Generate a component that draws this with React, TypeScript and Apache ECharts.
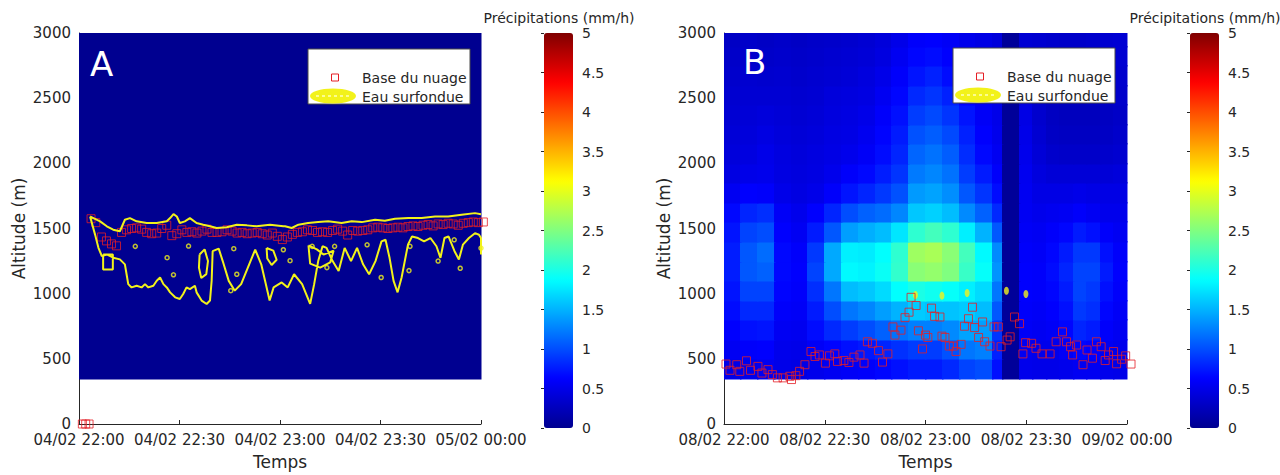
import React, { useEffect, useRef } from 'react';
import * as echarts from 'echarts';

// ---------- tick labels ----------
const ticksA = ['04/02 22:00', '04/02 22:30', '04/02 23:00', '04/02 23:30', '05/02 00:00'];
const ticksB = ['08/02 22:00', '08/02 22:30', '08/02 23:00', '08/02 23:30', '09/02 00:00'];

// ---------- panel A : precipitation field (minutes after 22:00, altitude m) ----------
const timeEdgesA = [0, 120];
const altEdgesA = [350, 3000];
const fieldA = [[0]];

// cloud base (Base du nuage) panel A
const baseTimeA = [1, 2, 3, 3.6, 5, 6.7, 8.2, 9.7, 11.2, 12.7, 14.2, 15.7, 17.2, 18.7, 20.2, 21.7, 23.2, 24.7, 26.2, 27.7,
  29.2, 30.7, 32.2, 33.7, 35.2, 36.7, 38.2, 39.7, 41.2, 42.7, 44.2, 45.7, 47.2, 48.7, 50.2, 51.7, 53.2, 54.7, 56.2, 57.7,
  59.2, 60.7, 62.2, 63.7, 65.2, 66.7, 68.2, 69.7, 71.2, 72.7, 74.2, 75.7, 77.2, 78.7, 80.2, 81.7, 83.2, 84.7, 86.2, 87.7,
  89.2, 90.7, 92.2, 93.7, 95.2, 96.7, 98.2, 99.7, 101.2, 102.7, 104.2, 105.7, 107.2, 108.7, 110.2, 111.7, 113.2, 114.7,
  116.2, 117.7, 119.2, 120.7];
const baseAltA = [0, 0, 0, 1575, 1545, 1435, 1405, 1382, 1367, 1470, 1490, 1500, 1505, 1495, 1470, 1460, 1465, 1500, 1525, 1445,
  1460, 1490, 1470, 1475, 1465, 1480, 1495, 1470, 1470, 1475, 1490, 1480, 1465, 1470, 1460, 1465, 1470, 1460, 1450, 1465,
  1440, 1415, 1435, 1455, 1470, 1475, 1490, 1485, 1470, 1475, 1470, 1485, 1495, 1480, 1450, 1485, 1480, 1485, 1490, 1505,
  1510, 1505, 1500, 1505, 1510, 1505, 1515, 1520, 1515, 1525, 1530, 1520, 1535, 1530, 1540, 1535, 1525, 1540,
  1545, 1550, 1545, 1550];

// supercooled water (Eau surfondue) contour pieces, panel A  [minute, altitude]
const contourUpperA = [[3.3, 1592], [4.3, 1580], [6.3, 1555], [8.3, 1517], [10.2, 1491], [12.2, 1479], [13.7, 1567], [15.2, 1580],
  [17.2, 1555], [20.2, 1542], [23.2, 1542], [26.2, 1555], [27.2, 1580], [28.2, 1610], [29.2, 1592], [30.1, 1542], [31.6, 1555],
  [33.1, 1580], [35.1, 1542], [37.1, 1529], [39.1, 1517], [41.1, 1504], [44.1, 1509], [47.1, 1529], [50.1, 1524], [53, 1517],
  [57, 1529], [61, 1517], [61.5, 1517], [63.5, 1504], [65.5, 1529], [68.4, 1542], [71.4, 1549], [74.4, 1555], [78.4, 1542],
  [81.4, 1555], [84.4, 1549], [88.4, 1567], [91.3, 1560], [94.3, 1575], [98.3, 1580], [102.3, 1580], [106.3, 1592],
  [110.2, 1592], [114.2, 1605], [118.2, 1618], [120, 1610]];
const contourLowerA = [[3.3, 1592], [4.8, 1453], [5.8, 1352], [6.8, 1289], [8.3, 1301], [10.2, 1276], [12.2, 1263], [13.7, 1225],
  [14.2, 1149], [14.7, 1073], [15.7, 1048], [17.2, 1061], [18.7, 1048], [19.7, 1073], [20.7, 1048], [22.2, 1061], [23.2, 1099],
  [24.2, 1124], [25.2, 1073], [26.2, 1048], [27.2, 1010], [28.7, 972], [30.1, 959], [31.1, 997], [32.1, 1048], [33.1, 1035],
  [34.6, 1061], [35.1, 1010], [36.6, 947], [38.1, 921], [39.1, 947], [39.6, 1100], [39.9, 1326], [41.7, 1346], [42.9, 1250],
  [44.7, 1098], [46.5, 1023], [48.4, 1073], [50.8, 1225], [52.6, 1338], [54.4, 1225], [56.9, 947], [58.1, 1048], [60.5, 1086],
  [62.3, 1048], [64.2, 1149], [66.6, 1073], [69, 922], [70.2, 1073], [71.4, 1250], [72.7, 1364], [73.9, 1351], [75.7, 1250],
  [77.5, 1174], [79.3, 1351], [81.2, 1250], [83, 1351], [84.8, 1225], [86.6, 1149], [88.5, 1250], [90.3, 1401], [91.5, 1414],
  [92.7, 1275], [93.9, 1098], [95.1, 1010], [96.3, 1124], [98.2, 1376], [99.4, 1439], [101.2, 1427], [103, 1401], [104.9, 1427],
  [106.7, 1364], [107.9, 1275], [109.1, 1427], [110.3, 1439], [112.1, 1326], [113.4, 1262], [114.6, 1376], [116.4, 1427],
  [118.2, 1464], [119.4, 1452], [120, 1427], [120, 1300]];
const islandLoopsA = [
  [[7.2, 1300], [10.1, 1300], [10.1, 1185], [7.2, 1185], [7.2, 1300]],
  [[36, 1300], [37.5, 1340], [38.5, 1250], [38, 1150], [36.5, 1120], [35.8, 1200], [36, 1300]],
  [[56, 1350], [58, 1330], [59, 1260], [57.5, 1220], [56.2, 1270], [56, 1350]],
  [[68.5, 1370], [71, 1340], [73, 1300], [76, 1330], [75, 1240], [72, 1200], [69, 1230], [68.5, 1370]],
];
const islandDotsA = [[16.8, 1363], [26.3, 1276], [28.2, 1145], [32.7, 1365], [46.2, 1345], [47.1, 1149], [45.3, 1023],
  [61, 1337], [63, 1253], [69.6, 1363], [74, 1200], [76.3, 1363], [86, 1375], [90.2, 1124], [98.5, 1177], [98.8, 1363],
  [107.2, 1250], [112, 1413], [113.8, 1195], [120, 1350]];

// ---------- panel B : precipitation field ----------
const timeEdgesB = [0, 5, 10, 15, 20, 25, 30, 35, 40, 45, 50, 55, 60, 65, 70, 75, 80, 83, 88, 92, 96, 100, 104, 108, 112, 116, 120];
const altEdgesB = [350, 500, 650, 800, 950, 1100, 1250, 1400, 1550, 1700, 1850, 2000, 2150, 2300, 2450, 2600, 2750, 2900, 3000];
// rows listed from the top (2900-3000 m) down to the bottom (350-500 m)
const fieldBTopDown = [
  [0.3, 0.32, 0.3, 0.32, 0.3, 0.32, 0.33, 0.35, 0.38, 0.42, 0.5, 0.6, 0.62, 0.58, 0.52, 0.48, 0.42, 0.05, 0.38, 0.36, 0.34, 0.32, 0.32, 0.34, 0.36, 0.38],
  [0.32, 0.34, 0.32, 0.34, 0.32, 0.34, 0.36, 0.38, 0.4, 0.45, 0.55, 0.65, 0.68, 0.62, 0.55, 0.5, 0.45, 0.05, 0.4, 0.35, 0.33, 0.31, 0.31, 0.33, 0.35, 0.37],
  [0.34, 0.36, 0.35, 0.36, 0.34, 0.36, 0.38, 0.4, 0.44, 0.5, 0.6, 0.72, 0.78, 0.68, 0.58, 0.52, 0.46, 0.05, 0.4, 0.33, 0.3, 0.28, 0.28, 0.3, 0.33, 0.35],
  [0.36, 0.38, 0.38, 0.38, 0.36, 0.38, 0.42, 0.44, 0.46, 0.55, 0.65, 0.82, 0.88, 0.78, 0.62, 0.54, 0.48, 0.05, 0.44, 0.33, 0.28, 0.26, 0.26, 0.28, 0.3, 0.33],
  [0.38, 0.4, 0.42, 0.4, 0.38, 0.4, 0.44, 0.46, 0.5, 0.6, 0.7, 0.92, 0.98, 0.88, 0.72, 0.58, 0.5, 0.05, 0.48, 0.35, 0.28, 0.26, 0.26, 0.26, 0.28, 0.31],
  [0.4, 0.42, 0.46, 0.42, 0.4, 0.42, 0.46, 0.48, 0.54, 0.64, 0.75, 1.02, 1.08, 0.98, 0.78, 0.62, 0.52, 0.05, 0.5, 0.37, 0.3, 0.28, 0.28, 0.28, 0.3, 0.33],
  [0.42, 0.45, 0.5, 0.45, 0.42, 0.45, 0.48, 0.52, 0.58, 0.68, 0.8, 1.12, 1.18, 1.08, 0.84, 0.66, 0.55, 0.05, 0.52, 0.4, 0.34, 0.32, 0.32, 0.32, 0.34, 0.36],
  [0.46, 0.5, 0.52, 0.46, 0.44, 0.46, 0.52, 0.6, 0.66, 0.76, 0.88, 1.22, 1.28, 1.18, 0.92, 0.75, 0.6, 0.05, 0.54, 0.44, 0.4, 0.4, 0.4, 0.4, 0.4, 0.42],
  [0.55, 0.62, 0.6, 0.5, 0.46, 0.5, 0.6, 0.72, 0.8, 0.9, 1.02, 1.38, 1.42, 1.32, 1.05, 0.88, 0.68, 0.05, 0.55, 0.48, 0.48, 0.48, 0.5, 0.48, 0.48, 0.48],
  [0.66, 0.8, 0.85, 0.58, 0.52, 0.62, 0.8, 1.0, 1.1, 1.15, 1.28, 1.6, 1.65, 1.55, 1.3, 1.1, 0.82, 0.05, 0.56, 0.52, 0.54, 0.56, 0.6, 0.56, 0.52, 0.52],
  [0.72, 0.95, 1.0, 0.62, 0.56, 0.75, 1.05, 1.4, 1.48, 1.55, 1.75, 2.1, 2.2, 2.1, 1.8, 1.5, 1.05, 0.05, 0.58, 0.56, 0.6, 0.65, 0.75, 0.7, 0.6, 0.56],
  [0.76, 1.05, 1.15, 0.66, 0.6, 0.9, 1.45, 1.8, 1.78, 1.88, 2.1, 2.65, 2.7, 2.55, 2.2, 1.85, 1.3, 0.05, 0.6, 0.58, 0.65, 0.75, 0.9, 0.9, 0.7, 0.6],
  [0.76, 1.05, 1.1, 0.66, 0.62, 0.95, 1.45, 1.85, 1.82, 1.92, 2.12, 2.55, 2.6, 2.5, 2.15, 1.9, 1.35, 0.05, 0.62, 0.6, 0.68, 0.8, 0.95, 0.95, 0.75, 0.62],
  [0.72, 0.95, 0.95, 0.64, 0.6, 0.85, 1.2, 1.55, 1.6, 1.7, 1.88, 2.0, 1.95, 1.9, 1.8, 1.7, 1.2, 0.05, 0.62, 0.6, 0.65, 0.75, 0.95, 0.9, 0.7, 0.6],
  [0.68, 0.82, 0.82, 0.6, 0.58, 0.75, 1.0, 1.2, 1.28, 1.4, 1.5, 1.62, 1.58, 1.58, 1.62, 1.55, 1.05, 0.05, 0.6, 0.58, 0.62, 0.7, 0.9, 0.85, 0.65, 0.58],
  [0.62, 0.7, 0.72, 0.56, 0.54, 0.68, 0.82, 0.92, 1.0, 1.1, 1.18, 1.25, 1.25, 1.3, 1.42, 1.4, 0.88, 0.05, 0.58, 0.55, 0.58, 0.65, 0.8, 0.75, 0.6, 0.55],
  [0.56, 0.6, 0.62, 0.52, 0.5, 0.58, 0.64, 0.7, 0.74, 0.8, 0.86, 0.92, 0.92, 1.02, 1.2, 1.25, 0.78, 0.05, 0.55, 0.52, 0.52, 0.58, 0.65, 0.62, 0.55, 0.52],
  [0.5, 0.52, 0.55, 0.5, 0.48, 0.52, 0.55, 0.58, 0.6, 0.65, 0.7, 0.75, 0.75, 0.82, 0.95, 1.0, 0.7, 0.05, 0.52, 0.5, 0.5, 0.52, 0.55, 0.55, 0.52, 0.5],
];

// cloud base panel B
const baseTimeB = [0.6, 1.8, 3.8, 4.7, 6.7, 7.9, 10.1, 11.3, 13.1, 14.4, 15.9, 17.6, 19.6, 20.1, 21.4, 22.5, 24.1, 25.9, 27.1, 28.4,
  30.2, 31.4, 33, 33.8, 35.7, 37.2, 38.7, 40.5, 41.7, 42.7, 44.2, 46, 47.2, 48.8, 50.3, 50.9, 52.7, 53.9, 55.1, 55.7, 57.2, 57.9,
  59.1, 60, 60.7, 61.8, 62.7, 64.3, 64.9, 65.8, 67.1, 68.3, 69.1, 70.6, 71.6, 72.8, 74, 74.6, 75.8, 77, 77.6, 79.2, 80.4, 81.7,
  82.5, 84.3, 85.2, 86.5, 88, 89, 89.8, 91.6, 92.9, 94.7, 97.1, 98.9, 100.8, 102, 103.2, 103.8, 105, 106.9, 108.1, 109.7, 110.9,
  112.3, 113.5, 114.5, 116, 116.9, 118.4, 119.6, 121.2];
const baseAltB = [460, 412, 455, 404, 485, 412, 442, 391, 417, 379, 354, 354, 366, 341, 371, 404, 455, 556, 518, 530,
  467, 523, 538, 480, 487, 472, 513, 530, 467, 631, 619, 563, 475, 538, 745, 682, 720, 816, 858, 972, 909, 715,
  576, 682, 664, 889, 826, 821, 674, 664, 598, 598, 556, 611, 750, 808, 896, 740, 664, 783, 631, 598, 745, 745,
  593, 644, 669, 821, 770, 538, 624, 619, 581, 538, 538, 631, 707, 631, 593, 530, 606, 455, 568, 505, 631,
  593, 487, 530, 556, 462, 497, 523, 460];

// supercooled water spots panel B
const waterTimeB = [57, 64.9, 72.4, 84.1, 89.9];
const waterAltB = [990, 985, 1005, 1023, 997];

// ---------- styling ----------
const FONT = 'DejaVu Sans';
const TXT = '#262626';
const JET = ['#000090', '#0000FF', '#0080FF', '#00FFFF', '#80FF80', '#FFFF00', '#FF8000', '#FF0000', '#800000'];
const RED = '#E51E25';
const YELLOW = '#F2F21A';

function buildCells(tE: number[], aE: number[], f: number[][]) {
  const out: number[][] = [];
  for (let r = 0; r < aE.length - 1; r++) {
    for (let c = 0; c < tE.length - 1; c++) {
      out.push([tE[c], tE[c + 1], aE[r], aE[r + 1], f[r][c]]);
    }
  }
  return out;
}

function zip(a: number[], b: number[]) {
  return a.map((v, i) => [v, b[i]]);
}

function joinPieces(pieces: number[][][]) {
  const out: any[] = [];
  pieces.forEach((p, i) => {
    if (i > 0) out.push(['-', '-']);
    p.forEach((pt) => out.push(pt));
  });
  return out;
}

const renderCell = (params: any, api: any) => {
  const p0 = api.coord([api.value(0), api.value(3)]);
  const p1 = api.coord([api.value(1), api.value(2)]);
  const x = Math.floor(p0[0]);
  const y = Math.floor(p0[1]);
  return {
    type: 'rect',
    shape: { x, y, width: Math.ceil(p1[0]) - x + 0.5, height: Math.ceil(p1[1]) - y + 0.5 },
    style: { fill: api.visual('color') },
  };
};

function xAxisFor(idx: number, ticks: string[]) {
  return {
    gridIndex: idx,
    type: 'value',
    min: 0,
    max: 120,
    interval: 30,
    axisLine: { show: true, onZero: false, lineStyle: { color: TXT, width: 1 } },
    axisTick: { show: true, inside: true, length: 4, lineStyle: { color: TXT } },
    axisLabel: {
      formatter: (v: number) => ticks[Math.round(v / 30)],
      color: TXT,
      fontSize: 15,
      fontFamily: FONT,
      margin: 8,
    },
    splitLine: { show: false },
    name: 'Temps',
    nameLocation: 'middle',
    nameGap: 29,
    nameTextStyle: { fontSize: 17, color: TXT, fontFamily: FONT },
  };
}

function yAxisFor(idx: number) {
  return {
    gridIndex: idx,
    type: 'value',
    min: 0,
    max: 3000,
    interval: 500,
    axisLine: { show: true, onZero: false, lineStyle: { color: TXT, width: 1 } },
    axisTick: { show: true, inside: true, length: 4, lineStyle: { color: TXT } },
    axisLabel: { color: TXT, fontSize: 15, fontFamily: FONT, margin: 8, formatter: (v: number) => String(v) },
    splitLine: { show: false },
    name: 'Altitude (m)',
    nameLocation: 'middle',
    nameGap: 52,
    nameRotate: 90,
    nameTextStyle: { fontSize: 17, color: TXT, fontFamily: FONT },
  };
}

function cbAxes(idx: number) {
  return {
    x: { gridIndex: idx, type: 'value', min: 0, max: 1, show: false },
    y: {
      gridIndex: idx,
      type: 'value',
      min: 0,
      max: 5,
      interval: 0.5,
      position: 'right',
      z: 10,
      axisLine: { show: false },
      axisTick: { show: true, inside: true, length: 3, lineStyle: { color: TXT } },
      axisLabel: { color: TXT, fontSize: 14, fontFamily: FONT, margin: 9, formatter: (v: number) => String(v) },
      splitLine: { show: false },
    },
  };
}

function legendGraphics(L: number, T: number) {
  return [
    {
      type: 'rect', z: 100,
      shape: { x: L, y: T, width: 162, height: 55 },
      style: { fill: '#ffffff', stroke: '#4a4a4a', lineWidth: 1 },
    },
    {
      type: 'rect', z: 101,
      shape: { x: L + 23.5, y: T + 25, width: 7, height: 7 },
      style: { fill: 'none', stroke: RED, lineWidth: 1 },
    },
    {
      type: 'text', z: 101, x: L + 54, y: T + 29,
      style: { text: 'Base du nuage', fill: TXT, fontSize: 14, fontFamily: FONT, textVerticalAlign: 'middle' },
    },
    {
      type: 'ellipse', z: 101,
      shape: { cx: L + 25, cy: T + 47, rx: 23, ry: 7.5 },
      style: { fill: YELLOW },
    },
    {
      type: 'line', z: 102,
      shape: { x1: L + 8, y1: T + 47, x2: L + 42, y2: T + 47 },
      style: { stroke: '#FFFFB8', lineWidth: 1.5, lineDash: [3, 3] },
    },
    {
      type: 'text', z: 101, x: L + 54, y: T + 48,
      style: { text: 'Eau surfondue', fill: TXT, fontSize: 14, fontFamily: FONT, textVerticalAlign: 'middle' },
    },
  ];
}

export default function App() {
  const ref = useRef<HTMLDivElement>(null);
  useEffect(() => {
    if (!ref.current) return;
    const chart = echarts.init(ref.current, null, { renderer: 'svg' });
    const fieldB = fieldBTopDown.slice().reverse();
    const cbA = cbAxes(2);
    const cbB = cbAxes(3);
    const option: any = {
      animation: false,
      backgroundColor: '#ffffff',
      textStyle: { fontFamily: FONT },
      grid: [
        { left: 79, top: 33, width: 402, height: 395 },
        { left: 724, top: 33, width: 403, height: 395 },
        { left: 544, top: 33, width: 29, height: 395 },
        { left: 1190, top: 33, width: 29, height: 395 },
      ],
      xAxis: [xAxisFor(0, ticksA), xAxisFor(1, ticksB), cbA.x, cbB.x],
      yAxis: [yAxisFor(0), yAxisFor(1), cbA.y, cbB.y],
      visualMap: [
        {
          type: 'continuous', min: 0, max: 5, seriesIndex: 0, dimension: 4,
          inRange: { color: JET }, left: 544, top: 33, itemWidth: 29, itemHeight: 395,
          padding: 0, calculable: false, hoverLink: false, orient: 'vertical',
        },
        {
          type: 'continuous', min: 0, max: 5, seriesIndex: 1, dimension: 4,
          inRange: { color: JET }, left: 1190, top: 33, itemWidth: 29, itemHeight: 395,
          padding: 0, calculable: false, hoverLink: false, orient: 'vertical',
        },
      ],
      series: [
        {
          type: 'custom', xAxisIndex: 0, yAxisIndex: 0, silent: true,
          renderItem: renderCell, encode: { x: [0, 1], y: [2, 3] },
          data: buildCells(timeEdgesA, altEdgesA, fieldA),
        },
        {
          type: 'custom', xAxisIndex: 1, yAxisIndex: 1, silent: true,
          renderItem: renderCell, encode: { x: [0, 1], y: [2, 3] },
          data: buildCells(timeEdgesB, altEdgesB, fieldB),
        },
        {
          name: 'Eau surfondue', type: 'line', xAxisIndex: 0, yAxisIndex: 0, silent: true,
          showSymbol: false, connectNulls: false,
          lineStyle: { color: YELLOW, width: 2 },
          data: joinPieces([contourUpperA, contourLowerA, ...islandLoopsA]),
        },
        {
          name: 'Eau surfondue', type: 'scatter', xAxisIndex: 0, yAxisIndex: 0, silent: true,
          symbol: 'circle', symbolSize: 4,
          itemStyle: { color: 'rgba(0,0,0,0)', borderColor: YELLOW, borderWidth: 1.5 },
          data: islandDotsA,
        },
        {
          name: 'Base du nuage', type: 'scatter', xAxisIndex: 0, yAxisIndex: 0, silent: true, clip: false,
          symbol: 'rect', symbolSize: 8,
          itemStyle: { color: 'rgba(0,0,0,0)', borderColor: RED, borderWidth: 1 },
          data: zip(baseTimeA, baseAltA),
        },
        {
          name: 'Eau surfondue', type: 'scatter', xAxisIndex: 1, yAxisIndex: 1, silent: true,
          symbol: 'circle', symbolSize: [5, 8],
          itemStyle: { color: YELLOW },
          data: zip(waterTimeB, waterAltB),
        },
        {
          name: 'Base du nuage', type: 'scatter', xAxisIndex: 1, yAxisIndex: 1, silent: true, clip: false,
          symbol: 'rect', symbolSize: 8,
          itemStyle: { color: 'rgba(0,0,0,0)', borderColor: RED, borderWidth: 1 },
          data: zip(baseTimeB, baseAltB),
        },
        { type: 'scatter', xAxisIndex: 2, yAxisIndex: 2, data: [], silent: true },
        { type: 'scatter', xAxisIndex: 3, yAxisIndex: 3, data: [], silent: true },
      ],
      graphic: [
        {
          type: 'text', z: 100, x: 90, y: 64,
          style: { text: 'A', fill: '#ffffff', fontSize: 34, fontFamily: FONT, textVerticalAlign: 'middle' },
        },
        {
          type: 'text', z: 100, x: 743, y: 62,
          style: { text: 'B', fill: '#ffffff', fontSize: 34, fontFamily: FONT, textVerticalAlign: 'middle' },
        },
        {
          type: 'text', z: 100, x: 559, y: 18,
          style: { text: 'Précipitations (mm/h)', fill: TXT, fontSize: 14, fontFamily: FONT, textAlign: 'center', textVerticalAlign: 'middle' },
        },
        {
          type: 'text', z: 100, x: 1205, y: 18,
          style: { text: 'Précipitations (mm/h)', fill: TXT, fontSize: 14, fontFamily: FONT, textAlign: 'center', textVerticalAlign: 'middle' },
        },
        ...legendGraphics(308, 49),
        ...legendGraphics(953, 48),
      ],
    };
    chart.setOption(option);
    return () => chart.dispose();
  }, []);
  return (
    <div
      ref={ref}
      style={{ position: 'fixed', left: 0, top: 0, width: 1280, height: 475, background: '#ffffff' }}
    />
  );
}
